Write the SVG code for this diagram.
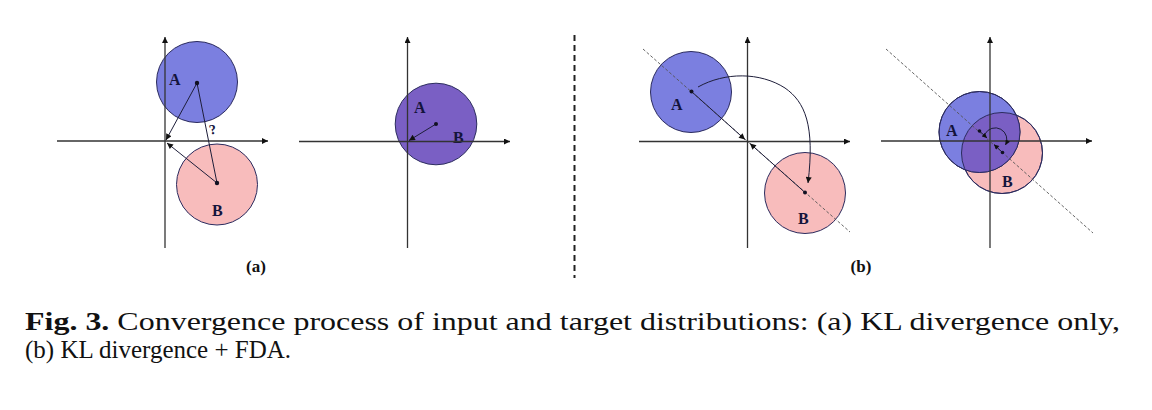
<svg xmlns="http://www.w3.org/2000/svg" width="1152" height="410" viewBox="0 0 1152 410">
<style>
.bg{fill:#ffffff}
.cA{fill:#7b7fe0;stroke:#2b2b5e;stroke-width:1}
.cB{fill:#f8bcbc;stroke:#2b2b5e;stroke-width:1}
.cAB{fill:#7a5fc4;stroke:#2b2b5e;stroke-width:1}
.ov{fill:#7a5fc4;stroke:none}
.rim{fill:none;stroke:#2b2b5e;stroke-width:1}
.axis{stroke:#333333;stroke-width:1.3;fill:none}
.vec{stroke:#1e1e3a;stroke-width:1;fill:none}
.dash{stroke:#555555;stroke-width:0.9;stroke-dasharray:3,2;fill:none}
.sep{stroke:#222222;stroke-width:2;stroke-dasharray:6,4;fill:none}
.dot{fill:#111122}
.lbl{font-family:"Liberation Serif","Times New Roman",serif;font-weight:bold;font-size:16px;fill:#14143c}
.sub{font-family:"Liberation Serif","Times New Roman",serif;font-weight:bold;font-size:17px;fill:#111111;text-anchor:middle}
.cap{font-family:"Liberation Serif","Times New Roman",serif;font-size:25px;fill:#111111}
</style>
<defs>
<marker id="ah" viewBox="0 0 10 10" refX="10" refY="5" markerWidth="8" markerHeight="6" markerUnits="userSpaceOnUse" orient="auto">
<path d="M0,0 L10,5 L0,10 z" fill="#111111"/>
</marker>
<marker id="ahs" viewBox="0 0 10 10" refX="10" refY="5" markerWidth="6" markerHeight="5" markerUnits="userSpaceOnUse" orient="auto">
<path d="M0,0 L10,5 L0,10 z" fill="#111111"/>
</marker>
<clipPath id="clipA4"><circle cx="979.5" cy="132" r="40.5"/></clipPath>
</defs>
<rect class="bg" x="0" y="0" width="1152" height="410"/>

<!-- Panel (a) left -->
<g id="a1-circleA"><circle class="cA" cx="197" cy="82" r="40.5"/><text class="lbl" x="169" y="85">A</text></g>
<g id="a1-circleB"><circle class="cB" cx="217" cy="184.5" r="40.5"/><text class="lbl" x="212" y="216">B</text></g>
<!-- Panel (a) right -->
<g id="a2-circleAB"><circle class="cAB" cx="436" cy="124" r="40.8"/><text class="lbl" x="414" y="113">A</text><text class="lbl" x="453" y="143">B</text></g>
<!-- Panel (b) left -->
<g id="b1-circleA"><circle class="cA" cx="691" cy="92" r="40.5"/><text class="lbl" x="671" y="110">A</text></g>
<g id="b1-circleB"><circle class="cB" cx="805" cy="193" r="40.5"/><text class="lbl" x="798" y="224">B</text></g>
<!-- Panel (b) right -->
<g id="b2-circles">
<circle class="cB" cx="1002" cy="153" r="40.5"/>
<circle class="cA" cx="979.5" cy="132" r="40.5"/>
<circle class="ov" cx="1002" cy="153" r="40.5" clip-path="url(#clipA4)"/>
<circle class="rim" cx="1002" cy="153" r="40.5"/>
<circle class="rim" cx="979.5" cy="132" r="40.5"/>
<text class="lbl" x="946" y="136">A</text><text class="lbl" x="1002" y="187">B</text>
</g>

<g id="connectors">
<!-- axes -->
<line class="axis" x1="57" y1="141" x2="268" y2="141" marker-end="url(#ah)"/>
<line class="axis" x1="165" y1="248" x2="165" y2="37" marker-end="url(#ah)"/>
<line class="axis" x1="299" y1="141.5" x2="510" y2="141.5" marker-end="url(#ah)"/>
<line class="axis" x1="407.5" y1="248" x2="407.5" y2="37" marker-end="url(#ah)"/>
<line class="axis" x1="639" y1="141.5" x2="850" y2="141.5" marker-end="url(#ah)"/>
<line class="axis" x1="747.5" y1="248" x2="747.5" y2="37" marker-end="url(#ah)"/>
<line class="axis" x1="881" y1="141" x2="1092" y2="141" marker-end="url(#ah)"/>
<line class="axis" x1="990" y1="248" x2="990" y2="37" marker-end="url(#ah)"/>
<!-- separator -->
<line class="sep" x1="574.5" y1="35" x2="574.5" y2="278"/>
<!-- panel a1 vectors -->
<line class="vec" x1="197" y1="83" x2="166" y2="140" marker-end="url(#ah)"/>
<line class="vec" x1="217" y1="183" x2="167" y2="143" marker-end="url(#ah)"/>
<line class="vec" x1="197" y1="83" x2="217" y2="183"/>
<!-- panel a2 vector -->
<line class="vec" x1="436" y1="124" x2="409" y2="140.5" marker-end="url(#ah)"/>
<!-- panel b1 -->
<line class="dash" x1="643" y1="49" x2="850" y2="232"/>
<line class="vec" x1="691.5" y1="91.5" x2="745" y2="139.5" marker-end="url(#ah)"/>
<line class="vec" x1="805" y1="192.5" x2="750" y2="143.5" marker-end="url(#ah)"/>
<path class="vec" d="M698,87 C725,72 760,72 785,88 C805,102 815,125 808,183" marker-end="url(#ah)"/>
<!-- panel b2 -->
<line class="dash" x1="886" y1="49" x2="1093" y2="233"/>
<line class="vec" x1="979.5" y1="131" x2="987" y2="138" marker-end="url(#ahs)"/>
<line class="vec" x1="1002.5" y1="152.5" x2="994" y2="144.5" marker-end="url(#ahs)"/>
<path class="vec" d="M985,134 A11,11 0 1 1 1005.5,145" marker-end="url(#ahs)"/>
</g>

<g id="dots">
<circle class="dot" cx="197" cy="83" r="2.2"/>
<circle class="dot" cx="217" cy="183" r="2.2"/>
<circle class="dot" cx="436" cy="124" r="2"/>
<circle class="dot" cx="691.5" cy="91.5" r="2"/>
<circle class="dot" cx="805" cy="192.5" r="2"/>
<circle class="dot" cx="979.5" cy="131" r="1.8"/>
<circle class="dot" cx="1002.5" cy="152.5" r="1.8"/>
</g>

<text x="209" y="134" font-family="Liberation Serif, serif" font-weight="bold" font-size="14" fill="#14143c" transform="rotate(-12 213 129)">?</text>

<text class="sub" x="256" y="272">(a)</text>
<text class="sub" x="861" y="272">(b)</text>

<text class="cap" x="25" y="330" textLength="1095" lengthAdjust="spacingAndGlyphs"><tspan font-weight="bold">Fig. 3.</tspan> Convergence process of input and target distributions: (a) KL divergence only,</text>
<text class="cap" x="25" y="358" textLength="266" lengthAdjust="spacingAndGlyphs">(b) KL divergence + FDA.</text>
</svg>
